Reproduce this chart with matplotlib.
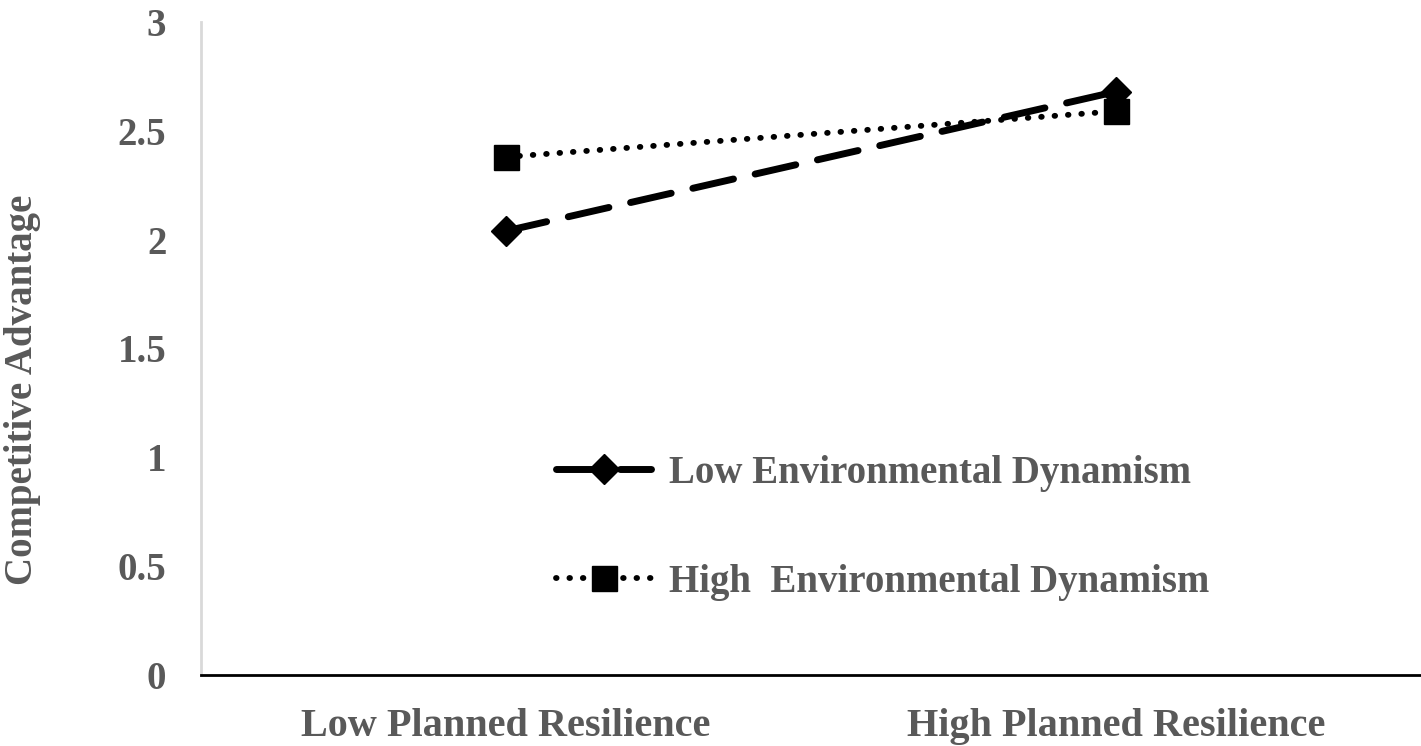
import matplotlib
matplotlib.use("Agg")
import matplotlib.pyplot as plt

categories = ["Low Planned Resilience", "High Planned Resilience"]
low_ed = [2.04, 2.68]
high_ed = [2.38, 2.59]
series_names = ["Low Environmental Dynamism", "High  Environmental Dynamism"]
yticks = [0, 0.5, 1, 1.5, 2, 2.5, 3]
ytick_labels = ["0", "0.5", "1", "1.5", "2", "2.5", "3"]

GRAY = "#595959"
plt.rcParams['font.family'] = ['Liberation Serif', 'DejaVu Serif']

fig = plt.figure(figsize=(14.21, 7.46), dpi=100)
ax = fig.add_axes([201/1421, 1 - 675/746, 1 - 201/1421, (675 - 22)/746])

x = list(range(len(categories)))
ax.plot(x, low_ed, color="black", lw=5, dashes=(6, 3.2), dash_capstyle="round",
        marker="D", markersize=15, markerfacecolor="black", markeredgecolor="black",
        label=series_names[0], solid_capstyle="round")
ax.plot(x, high_ed, color="black", lw=4.2, linestyle=(0, (0.1, 2.2)), dash_capstyle="round",
        marker="s", markersize=18, markerfacecolor="black", markeredgecolor="black",
        label=series_names[1])

ax.set_xlim(-0.5, 1.5)
ax.set_ylim(0, 3)
ax.set_yticks(yticks)
ax.set_yticklabels(ytick_labels, fontsize=28, fontweight="bold", color=GRAY)
ax.set_xticks(x)
ax.set_xticklabels(categories, fontsize=29, fontweight="bold", color=GRAY)
ax.tick_params(axis="both", length=0)
ax.tick_params(axis="y", pad=25)
ax.tick_params(axis="x", pad=24)

for s in ["top", "right"]:
    ax.spines[s].set_visible(False)
ax.spines["left"].set_color("#d9d9d9")
ax.spines["left"].set_linewidth(2)
ax.spines["bottom"].set_color("black")
ax.spines["bottom"].set_linewidth(2)

ax.set_ylabel("Competitive Advantage", fontsize=28, fontweight="bold", color=GRAY)
ax.yaxis.set_label_coords(-0.131, 0.437)

leg = ax.legend(loc="upper left", bbox_to_anchor=(521/1421, 1 - 420/746),
                bbox_transform=fig.transFigure, frameon=False,
                prop={"family": "Liberation Serif", "weight": "bold", "size": 28},
                handlelength=2.45, labelspacing=1.85, handletextpad=0.45)
for t in leg.get_texts():
    t.set_color(GRAY)

fig.savefig("out.png", dpi=100)
